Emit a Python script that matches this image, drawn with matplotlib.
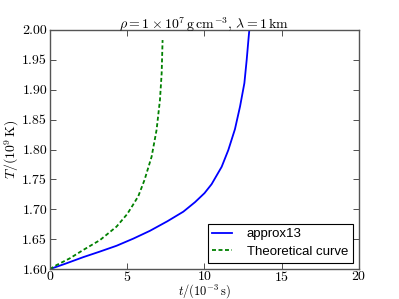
import matplotlib
matplotlib.use("Agg")
import matplotlib.pyplot as plt
import numpy as np

plt.rcParams['font.family'] = 'serif'
plt.rcParams['font.serif'] = ['cmr10']
plt.rcParams['mathtext.fontset'] = 'cm'
plt.rcParams['axes.unicode_minus'] = False
plt.rcParams['axes.formatter.use_mathtext'] = True

# approx13 (blue), t in 1e-3 s, T in 1e9 K
t_approx = [0.0, 1.0, 2.16, 3.2, 4.31, 5.4, 6.47, 7.6, 8.63, 9.39, 10.0, 10.46, 11.11, 11.54, 11.97, 12.30, 12.58, 12.73, 12.84, 12.9]
T_approx = [1.600, 1.609, 1.620, 1.629, 1.639, 1.651, 1.664, 1.680, 1.696, 1.712, 1.727, 1.742, 1.771, 1.799, 1.834, 1.872, 1.911, 1.950, 1.983, 2.000]

# theoretical curve (green, dashed)
t_theory = [0.0, 0.43, 1.29, 2.16, 3.24, 4.31, 5.0, 5.39, 5.72, 6.12, 6.58, 6.90, 7.12, 7.23, 7.29]
T_theory = [1.600, 1.6067, 1.618, 1.632, 1.6485, 1.671, 1.692, 1.708, 1.722, 1.749, 1.788, 1.8326, 1.883, 1.9275, 1.983]

xticks = [0, 5, 10, 15, 20]
yticks = [1.60, 1.65, 1.70, 1.75, 1.80, 1.85, 1.90, 1.95, 2.00]

fig = plt.figure(figsize=(3.99, 2.99), dpi=100)
ax = fig.add_axes([0.125, 0.1, 0.775, 0.8])

ax.plot(t_approx, T_approx, color='blue', lw=1.3, label='approx13')
ax.plot(t_theory, T_theory, color='green', lw=1.3, ls='--', dashes=(2.2, 1.4),
        label='Theoretical curve')

ax.set_xlim(0, 20)
ax.set_ylim(1.6, 2.0)
ax.set_xticks(xticks)
ax.set_yticks(yticks)
ax.set_yticklabels(['%.2f' % v for v in yticks])
ax.tick_params(direction='in', top=True, right=True, length=4, width=0.6,
               labelsize=10, pad=2, colors='#333333', labelcolor='black')
ax.tick_params(axis='x', pad=1)
for s in ax.spines.values():
    s.set_color('#555555')
    s.set_linewidth(1.0)

ax.set_xlabel(r'$t/(10^{-3}\,\mathrm{s})$', fontsize=9, labelpad=-1.5)
ax.set_ylabel(r'$T/(10^{9}\,\mathrm{K})$', fontsize=10, labelpad=1)
ax.set_title(r'$\rho = 1\times10^{7}\,\mathrm{g\,cm^{-3}}$, $\lambda = 1\,\mathrm{km}$',
             fontsize=10, pad=1)

leg = ax.legend(loc='lower right', fancybox=False, framealpha=1,
                prop={'family': 'Liberation Sans', 'size': 9.5},
                handlelength=1.5, handletextpad=1.1, borderaxespad=0.5,
                labelspacing=0.4, borderpad=0.35)
leg.get_frame().set_edgecolor('black')
leg.get_frame().set_linewidth(0.8)

fig.savefig('out.png', dpi=100)
